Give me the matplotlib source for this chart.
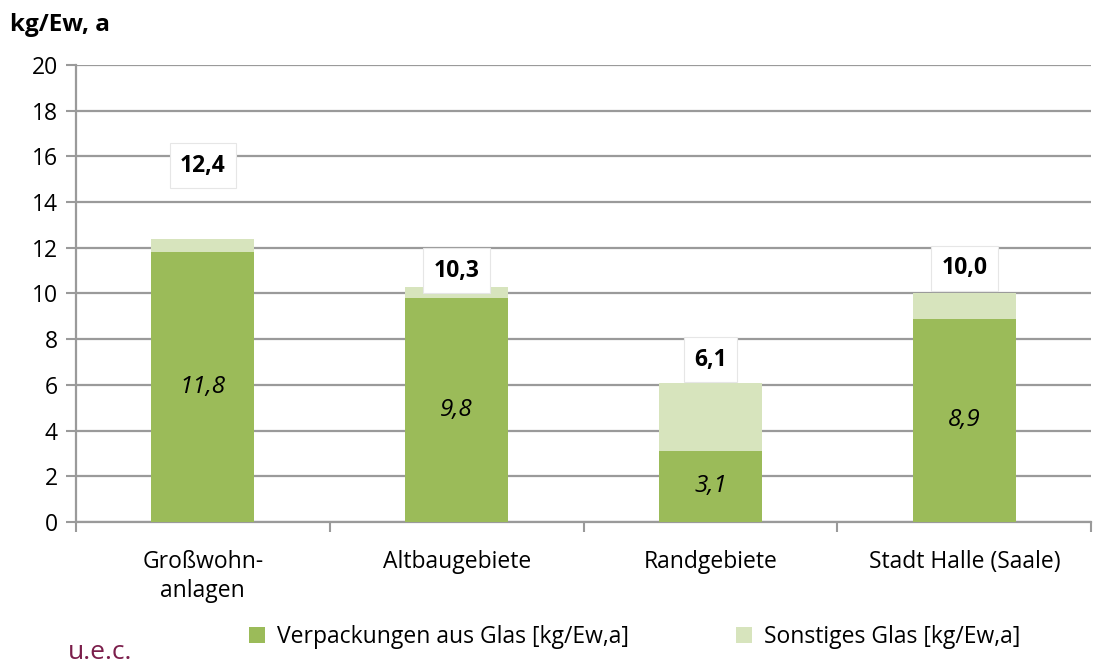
import matplotlib.pyplot as plt
import numpy as np

plt.rcParams['font.family'] = ['Open Sans', 'DejaVu Sans']

kategorien = ['Großwohn-\nanlagen', 'Altbaugebiete', 'Randgebiete', 'Stadt Halle (Saale)']
verpackung = [11.8, 9.8, 3.1, 8.9]
gesamt = [12.4, 10.3, 6.1, 10.0]
sonstiges = [g - v for g, v in zip(gesamt, verpackung)]
label_pos = [15.6, 11.0, 7.1, 11.1]

def fmt(v):
    return ('%.1f' % v).replace('.', ',')

fig = plt.figure(figsize=(10.98, 6.64), dpi=100)
ax = fig.add_axes([0.069, 0.214, 0.925, 0.688])

x = np.arange(len(kategorien))
b1 = ax.bar(x, verpackung, width=0.405, color='#9BBB59', zorder=3,
            label='Verpackungen aus Glas [kg/Ew,a]')
b2 = ax.bar(x, sonstiges, bottom=verpackung, width=0.405, color='#D7E4BD', zorder=3,
            label='Sonstiges Glas [kg/Ew,a]')

for i in range(len(x)):
    ax.text(x[i], verpackung[i] / 2, fmt(verpackung[i]), ha='center', va='center',
            fontsize=17.5, style='italic', zorder=5)
    ax.text(x[i], label_pos[i], fmt(gesamt[i]), ha='center', va='center',
            fontsize=16.5, fontweight='bold', zorder=5,
            bbox=dict(boxstyle='square,pad=0.45', fc='white', ec='#E6E6E6', lw=0.8))

ax.set_xlim(-0.5, 3.5)
ax.set_ylim(0, 20)
ax.set_yticks(range(0, 21, 2))
ax.yaxis.grid(True, color='#9A9A9A', linewidth=1.6, zorder=0)
ax.set_axisbelow(True)
ax.set_xticks(x)
ax.set_xticklabels(kategorien, fontsize=16.5, linespacing=1.3)
ax.set_xticks(np.arange(-0.5, 4.0, 1.0), minor=True)
ax.tick_params(axis='x', which='major', length=0, pad=20)
ax.tick_params(axis='x', which='minor', length=7, width=1.5, color='#9A9A9A')
ax.tick_params(axis='y', labelsize=16.5, length=7, width=1.5, color='#9A9A9A', pad=6)
for s in ['top', 'right']:
    ax.spines[s].set_visible(False)
for s in ['left', 'bottom']:
    ax.spines[s].set_color('#9A9A9A')
    ax.spines[s].set_linewidth(1.6)

fig.text(0.009, 0.962, 'kg/Ew, a', fontsize=17.5, fontweight='bold', va='center')
fig.text(0.062, 0.018, 'u.e.c.', fontsize=19, color='#7B1E4B', va='center')

fig.legend(handles=[b1, b2], loc='center', bbox_to_anchor=(0.578, 0.04), ncol=2,
           frameon=False, fontsize=16.5, handlelength=0.7, handleheight=0.7,
           columnspacing=4.7, handletextpad=0.5)

fig.savefig('out.png', dpi=100)
